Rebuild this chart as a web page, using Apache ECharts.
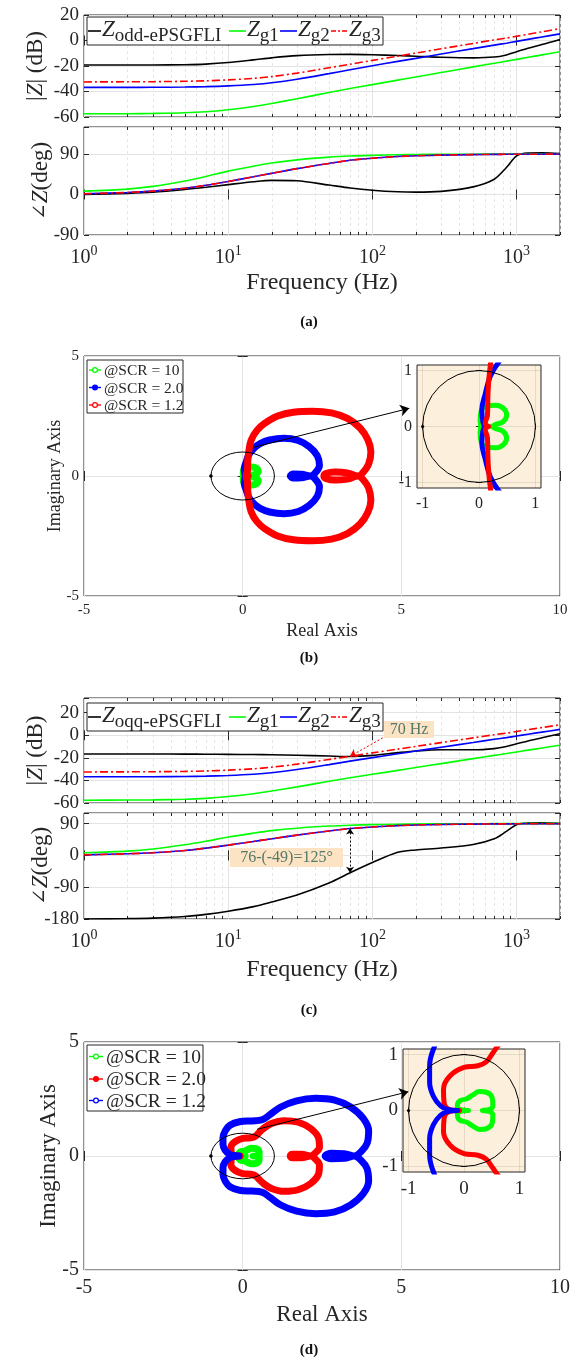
<!DOCTYPE html>
<html>
<head>
<meta charset="utf-8">
<title>Impedance Bode and Nyquist plots</title>
<script src="https://cdn.jsdelivr.net/npm/echarts@6/dist/echarts.min.js"></script>
<style>
  html, body { margin: 0; padding: 0; background: #ffffff; }
  #fig { width: 575px; height: 1361px; }
</style>
</head>
<body>
<div id="fig"></div>
<script>
// ---------- Bode data: frequency grid (Hz) and curve values ----------
const freqHz    = [1, 2, 3, 5, 7, 10, 15, 20, 30, 50, 70, 100, 150, 200, 300, 500, 700, 850, 1000, 1200, 1500, 2000];
const magOddA   = [-19.2, -19.2, -19.2, -19.0, -18.5, -17.3, -15.2, -13.6, -11.9, -11.0, -10.9, -11.2, -11.8, -12.3, -13.1, -13.6, -13.0, -11.3, -8.8, -6.0, -3.2, 0.8];
const magOqqC   = [-16.6, -16.6, -16.6, -16.7, -16.8, -16.9, -17.1, -17.3, -17.7, -18.4, -18.8, -17.8, -15.4, -13.9, -12.8, -12.9, -11.8, -10.0, -7.6, -5.0, -2.2, 1.4];
const magG1     = [-57.5, -57.4, -57.2, -56.7, -55.9, -54.3, -51.8, -49.4, -45.7, -40.8, -37.7, -34.6, -31.1, -28.6, -25.1, -20.7, -17.8, -16.2, -14.8, -13.2, -11.3, -8.8];
const magG2     = [-36.8, -36.8, -36.7, -36.5, -36.2, -35.6, -34.5, -33.2, -30.4, -26.0, -22.9, -19.8, -16.4, -14.0, -10.6, -6.4, -3.6, -2.1, -0.7, 0.9, 2.8, 5.2];
const magG3     = [-32.5, -32.4, -32.3, -32.0, -31.6, -30.9, -29.7, -28.3, -25.6, -21.4, -18.6, -15.6, -12.3, -9.9, -6.5, -2.3, 0.5, 1.9, 3.3, 4.9, 6.8, 9.3];
const phaseOddA = [0, 2.5, 5, 11, 16, 22, 28.5, 31.5, 30.5, 21, 14.5, 9.5, 6, 5.2, 7, 17, 34, 60, 86, 92, 92.5, 91];
const phaseOqqC = [-180, -179, -177.5, -173, -167, -158, -145, -132, -112, -78, -49, -20, 9, 15.5, 21, 31, 47, 68, 87, 91.5, 92, 90.5];
const phaseG1   = [7.5, 12, 18, 30, 40, 52, 63, 70, 77, 83, 85.5, 87, 88.2, 88.8, 89.3, 89.6, 89.8, 89.8, 89.9, 89.9, 90, 90];
const phaseG2   = [1.5, 4.5, 7.5, 14, 20.5, 29, 39.5, 47, 57.5, 69, 76, 80.5, 84.3, 86, 87.5, 88.6, 89.1, 89.3, 89.4, 89.5, 89.6, 89.7];
const phaseG3   = [1.5, 4.5, 7.5, 14, 20.5, 29, 39.5, 47, 57.5, 69, 76, 80.5, 84.3, 86, 87.5, 88.6, 89.1, 89.3, 89.4, 89.5, 89.6, 89.7];

// tick positions of the logarithmic frequency axis
const decadeTicks    = [1, 10, 100, 1000];
const minorFreqTicks = [2, 3, 4, 5, 6, 7, 8, 9, 20, 30, 40, 50, 60, 70, 80, 90, 200, 300, 400, 500, 600, 700, 800, 900, 2000];
const insetTicks     = [-1, 0, 1];

// legend names
const bodeNamesA = [['Z', 'odd-ePSGFLI'], ['Z', 'g1'], ['Z', 'g2'], ['Z', 'g3']];
const bodeNamesC = [['Z', 'oqq-ePSGFLI'], ['Z', 'g1'], ['Z', 'g2'], ['Z', 'g3']];
const scrLabels  = ['@SCR = 10', '@SCR = 2.0', '@SCR = 1.2'];

// annotation values in panel (c)
const crossFreqHz   = 70;
const phaseGapTop   = 76;
const phaseGapBot   = -49;
const crossArrow    = [[118, -2.3], [70, -18.6]];
const phaseArrow    = [[70, 76], [70, -49]];

// ---------- Nyquist data (real, imaginary) ----------
const nyqB_scr10 = [[0.23,0],[0.3,0.04],[0.42,0.08],[0.49,0.2],[0.44,0.32],[0.3,0.38],[0.12,0.36],[0.04,0.28],[0.02,0.12],[0.03,0],[0.02,-0.12],[0.04,-0.28],[0.12,-0.36],[0.3,-0.38],[0.44,-0.32],[0.49,-0.2],[0.42,-0.08],[0.3,-0.04],[0.23,0]];
const nyqB_scr20 = [[0.1,0],[0.07,0.08],[0.05,0.29],[0.11,0.58],[0.2,0.9],[0.35,1.15],[0.55,1.35],[0.85,1.5],[1.3,1.57],[1.75,1.48],[2.1,1.22],[2.35,0.85],[2.42,0.45],[2.3,0.15],[2.14,0],[1.85,0.07],[1.6,0.08],[1.5,0],[1.6,-0.08],[1.85,-0.07],[2.14,0],[2.3,-0.15],[2.42,-0.45],[2.35,-0.85],[2.1,-1.22],[1.75,-1.48],[1.3,-1.57],[0.85,-1.5],[0.55,-1.35],[0.35,-1.15],[0.2,-0.9],[0.11,-0.58],[0.05,-0.29],[0.07,-0.08],[0.1,0]];
const nyqB_scr12 = [[0.17,0],[0.11,0.06],[0.15,0.2],[0.16,0.6],[0.19,1.0],[0.27,1.5],[0.45,1.9],[0.7,2.2],[1.1,2.5],[1.6,2.66],[2.2,2.7],[2.8,2.63],[3.3,2.4],[3.7,2.0],[3.95,1.5],[4.04,1.0],[3.97,0.5],[3.8,0.16],[3.64,0],[3.3,0.13],[2.9,0.17],[2.62,0.1],[2.56,0],[2.62,-0.1],[2.9,-0.17],[3.3,-0.13],[3.64,0],[3.8,-0.16],[3.97,-0.5],[4.04,-1.0],[3.95,-1.5],[3.7,-2.0],[3.3,-2.4],[2.8,-2.63],[2.2,-2.7],[1.6,-2.66],[1.1,-2.5],[0.7,-2.2],[0.45,-1.9],[0.27,-1.5],[0.19,-1.0],[0.16,-0.6],[0.15,-0.2],[0.11,-0.06],[0.17,0]];

const nyqD_scr10 = [[0.08,0],[-0.08,0.02],[-0.12,0.08],[-0.08,0.17],[0.05,0.21],[0.16,0.28],[0.28,0.34],[0.42,0.32],[0.51,0.22],[0.52,0.08],[0.45,0.015],[0.33,0],[0.45,-0.015],[0.52,-0.08],[0.51,-0.22],[0.42,-0.32],[0.28,-0.34],[0.16,-0.28],[0.05,-0.21],[-0.08,-0.17],[-0.12,-0.08],[-0.08,-0.02],[0.08,0]];
const nyqD_scr20 = [[-0.08,0],[-0.27,0.02],[-0.36,0.15],[-0.37,0.38],[-0.25,0.62],[0,0.77],[0.25,0.8],[0.4,0.87],[0.52,1.03],[0.65,1.2],[0.9,1.42],[1.3,1.55],[1.75,1.48],[2.15,1.2],[2.4,0.75],[2.42,0.4],[2.3,0.15],[2.14,0],[1.85,0.08],[1.55,0.08],[1.5,0],[1.55,-0.08],[1.85,-0.08],[2.14,0],[2.3,-0.15],[2.42,-0.4],[2.4,-0.75],[2.15,-1.2],[1.75,-1.48],[1.3,-1.55],[0.9,-1.42],[0.65,-1.2],[0.52,-1.03],[0.4,-0.87],[0.25,-0.8],[0,-0.77],[-0.25,-0.62],[-0.37,-0.38],[-0.36,-0.15],[-0.27,-0.02],[-0.08,0]];
const nyqD_scr12 = [[-0.12,0],[-0.3,0.02],[-0.42,0.08],[-0.55,0.25],[-0.62,0.5],[-0.62,0.8],[-0.55,1.1],[-0.4,1.35],[-0.1,1.5],[0.3,1.54],[0.6,1.58],[0.85,1.8],[1.2,2.15],[1.7,2.42],[2.3,2.53],[2.9,2.45],[3.4,2.15],[3.8,1.65],[3.97,1.1],[3.92,0.55],[3.72,0.18],[3.52,0],[3.2,0.1],[2.8,0.12],[2.6,0],[2.8,-0.12],[3.2,-0.1],[3.52,0],[3.72,-0.18],[3.92,-0.55],[3.97,-1.1],[3.8,-1.65],[3.4,-2.15],[2.9,-2.45],[2.3,-2.53],[1.7,-2.42],[1.2,-2.15],[0.85,-1.8],[0.6,-1.58],[0.3,-1.54],[-0.1,-1.5],[-0.4,-1.35],[-0.55,-1.1],[-0.62,-0.8],[-0.62,-0.5],[-0.55,-0.25],[-0.42,-0.08],[-0.3,-0.02],[-0.12,0]];

// unit circle and critical point drawn on the Nyquist planes
const unitCircle    = { center: [0, 0], radius: 1 };
const criticalPoint = [-1, 0];

// zoom arrows pointing from the origin region to the inset
const zoomArrowB = [[0.35, 1.2], [5.25, 2.82]];
const zoomArrowD = [[0.45, 1.17], [5.22, 2.82]];

// ---------- styling ----------
const FONT = '"Liberation Serif", "Times New Roman", serif';
const TXT = '#262626';
const AX = '#262626';
const GRID_MAJOR = '#e3e3e3';
const GRID_MINOR = '#e6e6e6';
const INSET_BG = '#fcefdc';
const GREEN = '#00ff00', BLUE = '#0000ff', RED = '#ff0000', BLACK = '#000000';

const chart = echarts.init(document.getElementById('fig'), null, { renderer: 'canvas', width: 575, height: 1361 });

// grids: (a) magnitude, (a) phase, (b) Nyquist, (b) inset, (c) magnitude, (c) phase, (d) Nyquist, (d) inset
const gridBoxes = [
  { left: 84,  top: 15,   width: 476, height: 102 },
  { left: 84,  top: 127,  width: 476, height: 108 },
  { left: 84,  top: 356,  width: 476, height: 240 },
  { left: 417, top: 365,  width: 124, height: 123 },
  { left: 84,  top: 698,  width: 476, height: 105 },
  { left: 84,  top: 813,  width: 476, height: 106 },
  { left: 84,  top: 1042, width: 476, height: 228 },
  { left: 403, top: 1049, width: 122, height: 123 }
];
const insetGrids = [3, 7];
const grids = gridBoxes.map((b, i) => Object.assign({
  show: true, borderColor: AX, borderWidth: 1,
  backgroundColor: insetGrids.includes(i) ? INSET_BG : 'transparent',
  z: insetGrids.includes(i) ? 3 : 0,
  containLabel: false, outerBoundsMode: 'none'
}, b));

const xAxes = [], yAxes = [];

function freqAxes(g, showLabels, nameGap) {
  const base = { type: 'log', logBase: 10, min: 1, max: 2000, gridIndex: g, splitNumber: 3 };
  xAxes[2 * g] = Object.assign({}, base, {
    position: 'bottom',
    axisLine: { show: false },
    axisTick: { show: true, inside: true, length: 5, customValues: decadeTicks, lineStyle: { color: AX } },
    axisLabel: showLabels ? {
      show: true, margin: 9, customValues: decadeTicks,
      formatter: v => {
        const e = Math.log10(v);
        return Math.abs(e - Math.round(e)) < 1e-6 ? '{b|10}{p|' + Math.round(e) + '}' : '';
      },
      rich: {
        b: { fontFamily: FONT, fontSize: 20, color: TXT, lineHeight: 24, verticalAlign: 'bottom' },
        p: { fontFamily: FONT, fontSize: 14, color: TXT, lineHeight: 14, verticalAlign: 'top' }
      }
    } : { show: false },
    splitLine: { show: true, lineStyle: { color: GRID_MAJOR, width: 1 } },
    name: showLabels ? 'Frequency (Hz)' : '',
    nameLocation: 'middle', nameGap: nameGap, nameMoveOverlap: false,
    nameTextStyle: { fontFamily: FONT, fontSize: 24, color: TXT }
  });
  xAxes[2 * g + 1] = Object.assign({}, base, {
    position: 'top',
    axisLine: { show: false },
    axisTick: { show: true, inside: true, length: 5, customValues: decadeTicks, lineStyle: { color: AX } },
    axisLabel: { show: false },
    splitLine: { show: false }
  });
}

function valueAxes(list, dim, g, c) {
  const fmt = v => {
    if (c.labelValues) {
      return c.labelValues.some(t => Math.abs(t - v) < 1e-6) ? String(v) : '';
    }
    const k = (v - c.min) / c.interval;
    return Math.abs(k - Math.round(k)) < 1e-6 ? String(Math.round(v * 100) / 100) : '';
  };
  const common = { type: 'value', gridIndex: g, min: c.min, max: c.max, z: c.z || 0 };
  if (c.interval != null) common.interval = c.interval;
  if (c.splitNumber != null) common.splitNumber = c.splitNumber;
  const tick = { show: true, inside: true, length: c.tick, lineStyle: { color: AX } };
  if (c.labelValues) tick.customValues = c.labelValues;
  const lbl = {
    show: true, margin: c.margin, fontFamily: FONT, fontSize: c.fs, color: TXT,
    formatter: fmt, showMinLabel: true, showMaxLabel: true, hideOverlap: false
  };
  if (c.labelValues) lbl.customValues = c.labelValues;
  list[2 * g] = Object.assign({}, common, {
    position: dim === 'x' ? 'bottom' : 'left',
    axisLine: { show: false },
    axisTick: tick,
    axisLabel: lbl,
    splitLine: { show: true, lineStyle: { color: c.gridColor || GRID_MAJOR, width: 1 } },
    name: c.name || '', nameLocation: 'middle', nameGap: c.nameGap || 0, nameMoveOverlap: false,
    nameTextStyle: Object.assign({ fontFamily: FONT, fontSize: c.nameFs || 20, color: TXT }, c.nameRich ? { rich: c.nameRich } : {})
  });
  list[2 * g + 1] = Object.assign({}, common, {
    position: dim === 'x' ? 'top' : 'right',
    axisLine: { show: false },
    axisTick: tick,
    axisLabel: { show: false },
    splitLine: { show: false }
  });
}

const nameRich = {
  t: { fontFamily: FONT, fontSize: 23, color: TXT },
  g: { fontFamily: '"DejaVu Serif", serif', fontSize: 20, color: TXT },
  i: { fontFamily: FONT, fontSize: 23, color: TXT, fontStyle: 'italic' }
};

// (a)
freqAxes(0, false, 0);
freqAxes(1, true, 36);
valueAxes(yAxes, 'y', 0, { min: -60, max: 20, interval: 20, fs: 19, margin: 5, tick: 5, name: '{t||}{i|Z}{t|| (dB)}', nameGap: 37, nameRich });
valueAxes(yAxes, 'y', 1, { min: -90, max: 150, interval: 90, fs: 19, margin: 5, tick: 5, name: '{g|∠}{i|Z}{t|(deg)}', nameGap: 32, nameRich });
// (c)
freqAxes(4, false, 0);
freqAxes(5, true, 39);
valueAxes(yAxes, 'y', 4, { min: -60, max: 33, interval: 20, fs: 19, margin: 5, tick: 5, name: '{t||}{i|Z}{t|| (dB)}', nameGap: 37, nameRich });
valueAxes(yAxes, 'y', 5, { min: -180, max: 120, interval: 90, fs: 19, margin: 5, tick: 5, name: '{g|∠}{i|Z}{t|(deg)}', nameGap: 32, nameRich });
// (b) main + inset
valueAxes(xAxes, 'x', 2, { min: -5, max: 10, interval: 5, fs: 15, margin: 7, tick: 5, name: 'Real Axis', nameGap: 26, nameFs: 18 });
valueAxes(yAxes, 'y', 2, { min: -5, max: 5, interval: 5, fs: 15, margin: 5, tick: 5, name: 'Imaginary Axis', nameGap: 20, nameFs: 18 });
valueAxes(xAxes, 'x', 3, { min: -1.1, max: 1.1, splitNumber: 2, labelValues: insetTicks, fs: 16, margin: 8, tick: 3, z: 5, gridColor: 'rgba(0,0,0,0.09)' });
valueAxes(yAxes, 'y', 3, { min: -1.1, max: 1.1, splitNumber: 2, labelValues: insetTicks, fs: 16, margin: 5, tick: 3, z: 5, gridColor: 'rgba(0,0,0,0.09)' });
// (d) main + inset
valueAxes(xAxes, 'x', 6, { min: -5, max: 10, interval: 5, fs: 20, margin: 8, tick: 5, name: 'Real Axis', nameGap: 33, nameFs: 23 });
valueAxes(yAxes, 'y', 6, { min: -5, max: 5, interval: 5, fs: 20, margin: 5, tick: 5, name: 'Imaginary Axis', nameGap: 24, nameFs: 23 });
valueAxes(xAxes, 'x', 7, { min: -1.1, max: 1.1, splitNumber: 2, labelValues: insetTicks, fs: 19, margin: 8, tick: 3, z: 5, gridColor: 'rgba(0,0,0,0.09)' });
valueAxes(yAxes, 'y', 7, { min: -1.1, max: 1.1, splitNumber: 2, labelValues: insetTicks, fs: 19, margin: 5, tick: 3, z: 5, gridColor: 'rgba(0,0,0,0.09)' });

// ---------- series ----------
const series = [];
const pairs = (xs, ys) => xs.map((x, i) => [x, ys[i]]);

function minorGrid(g) {
  return {
    type: 'custom', xAxisIndex: 2 * g, yAxisIndex: 2 * g, silent: true, z: 1, clip: false,
    data: minorFreqTicks.map(f => [f, 0]),
    encode: { x: 0, y: 1 },
    renderItem(params, api) {
      const cs = params.coordSys;
      const x = Math.round(api.coord([api.value(0), 0])[0]) + 0.5;
      const y0 = cs.y, y1 = cs.y + cs.height;
      return {
        type: 'group', children: [
          { type: 'line', shape: { x1: x, y1: y0, x2: x, y2: y1 }, style: { stroke: GRID_MINOR, lineWidth: 1, lineDash: [3, 3] } },
          { type: 'line', shape: { x1: x, y1: y1, x2: x, y2: y1 - 3 }, style: { stroke: AX, lineWidth: 1 } },
          { type: 'line', shape: { x1: x, y1: y0, x2: x, y2: y0 + 3 }, style: { stroke: AX, lineWidth: 1 } }
        ]
      };
    }
  };
}

function bodeLine(g, values, color, dash) {
  return {
    type: 'line', xAxisIndex: 2 * g, yAxisIndex: 2 * g, data: pairs(freqHz, values),
    symbol: 'none', showSymbol: false, smooth: 0.3, clip: true, silent: true, z: 4,
    lineStyle: { color, width: 1.6, type: dash || 'solid' }
  };
}

const DASHDOT = [8, 3, 2, 3];
[0, 1, 4, 5].forEach(g => series.push(minorGrid(g)));

// (a)
series.push(bodeLine(0, magOddA, BLACK));
series.push(bodeLine(0, magG1, GREEN));
series.push(bodeLine(0, magG2, BLUE));
series.push(bodeLine(0, magG3, RED, DASHDOT));
series.push(bodeLine(1, phaseOddA, BLACK));
series.push(bodeLine(1, phaseG1, GREEN));
series.push(bodeLine(1, phaseG2, BLUE));
series.push(bodeLine(1, phaseG3, RED, DASHDOT));
// (c)
series.push(bodeLine(4, magOqqC, BLACK));
series.push(bodeLine(4, magG1, GREEN));
series.push(bodeLine(4, magG2, BLUE));
series.push(bodeLine(4, magG3, RED, DASHDOT));
series.push(bodeLine(5, phaseOqqC, BLACK));
series.push(bodeLine(5, phaseG1, GREEN));
series.push(bodeLine(5, phaseG2, BLUE));
series.push(bodeLine(5, phaseG3, RED, DASHDOT));

function nyqLine(g, pts, color, width, z) {
  return {
    type: 'line', xAxisIndex: 2 * g, yAxisIndex: 2 * g, data: pts,
    symbol: 'none', showSymbol: false, smooth: 0.4, clip: true, silent: true, z,
    lineStyle: { color, width, cap: 'round', join: 'round' }
  };
}

function circleSeries(g, dotR, z) {
  return {
    type: 'custom', xAxisIndex: 2 * g, yAxisIndex: 2 * g, silent: true, z, clip: true,
    data: [[unitCircle.center[0], unitCircle.center[1]]],
    encode: { x: 0, y: 1 },
    renderItem(params, api) {
      const c = api.coord(unitCircle.center);
      const r = api.coord([unitCircle.center[0] + unitCircle.radius, unitCircle.center[1]]);
      const t = api.coord([unitCircle.center[0], unitCircle.center[1] + unitCircle.radius]);
      const p = api.coord(criticalPoint);
      const rx = r[0] - c[0], ry = c[1] - t[1];
      const d = 'M ' + (c[0] - rx) + ' ' + c[1] +
        ' A ' + rx + ' ' + ry + ' 0 1 0 ' + (c[0] + rx) + ' ' + c[1] +
        ' A ' + rx + ' ' + ry + ' 0 1 0 ' + (c[0] - rx) + ' ' + c[1] + ' Z';
      return {
        type: 'group', children: [
          { type: 'path', shape: { pathData: d }, style: { fill: 'none', stroke: BLACK, lineWidth: 1 } },
          { type: 'circle', shape: { cx: p[0], cy: p[1], r: dotR }, style: { fill: BLACK } }
        ]
      };
    }
  };
}

function arrowSeries(g, coords, color, dotted, both, size) {
  return {
    type: 'lines', coordinateSystem: 'cartesian2d', xAxisIndex: 2 * g, yAxisIndex: 2 * g,
    silent: true, z: 20, polyline: false,
    symbol: both ? ['arrow', 'arrow'] : ['none', 'arrow'], symbolSize: size,
    lineStyle: { color, width: 1, opacity: 1, type: dotted ? [2, 2] : 'solid', curveness: 0 },
    data: [{ coords }]
  };
}

// (b) main
series.push(nyqLine(2, nyqB_scr10, GREEN, 7, 5));
series.push(nyqLine(2, nyqB_scr20, BLUE, 7, 6));
series.push(nyqLine(2, nyqB_scr12, RED, 7, 7));
series.push(circleSeries(2, 1.8, 9));
series.push(arrowSeries(2, zoomArrowB, BLACK, false, false, 9));
// (b) inset
series.push(nyqLine(3, nyqB_scr10, GREEN, 5, 10));
series.push(nyqLine(3, nyqB_scr20, BLUE, 5, 11));
series.push(nyqLine(3, nyqB_scr12, RED, 5, 12));
series.push(circleSeries(3, 1.6, 13));
// (d) main
series.push(nyqLine(6, nyqD_scr10, GREEN, 7, 5));
series.push(nyqLine(6, nyqD_scr20, RED, 7, 6));
series.push(nyqLine(6, nyqD_scr12, BLUE, 7, 7));
series.push(circleSeries(6, 1.8, 9));
series.push(arrowSeries(6, zoomArrowD, BLACK, false, false, 9));
// (d) inset
series.push(nyqLine(7, nyqD_scr10, GREEN, 5, 10));
series.push(nyqLine(7, nyqD_scr20, RED, 5, 11));
series.push(nyqLine(7, nyqD_scr12, BLUE, 5, 12));
series.push(circleSeries(7, 1.6, 13));
// (c) annotation arrows
series.push(arrowSeries(4, crossArrow, RED, true, false, 7));
series.push(arrowSeries(5, phaseArrow, BLACK, true, true, 6));

// ---------- graphic elements: legends, panel tags, annotation boxes ----------
const graphics = [];

function bodeLegend(box, y, names, lineXs, textXs) {
  graphics.push({ type: 'rect', shape: box, style: { fill: '#ffffff', stroke: AX, lineWidth: 1 }, z: 100 });
  const colors = [BLACK, GREEN, BLUE, RED];
  names.forEach((n, i) => {
    graphics.push({
      type: 'line', shape: { x1: lineXs[i][0], y1: y, x2: lineXs[i][1], y2: y },
      style: { stroke: colors[i], lineWidth: 1.6, lineDash: i === 3 ? [5, 2, 2, 2] : null }, z: 101
    });
    graphics.push({
      type: 'text', x: textXs[i], y: y + 1, z: 101,
      style: {
        text: '{z|' + n[0] + '}{s|' + n[1] + '}', align: 'left', verticalAlign: 'middle',
        rich: {
          z: { fontFamily: FONT, fontSize: 23, fontStyle: 'italic', fill: TXT, lineHeight: 28, verticalAlign: 'top' },
          s: { fontFamily: FONT, fontSize: 19, fill: TXT, lineHeight: 19, verticalAlign: 'bottom' }
        }
      }
    });
  });
}
bodeLegend({ x: 87, y: 17, width: 296, height: 28 }, 31, bodeNamesA,
  [[88, 101], [229, 246], [280, 297], [331, 348]], [102, 247, 298, 349]);
bodeLegend({ x: 87, y: 703, width: 296, height: 28 }, 717, bodeNamesC,
  [[88, 101], [229, 246], [280, 297], [331, 348]], [102, 247, 298, 349]);

function nyqLegend(box, rowYs, lineX, textX, fs, colors, fills) {
  graphics.push({ type: 'rect', shape: box, style: { fill: '#ffffff', stroke: AX, lineWidth: 1 }, z: 100 });
  scrLabels.forEach((lab, i) => {
    const y = rowYs[i];
    graphics.push({ type: 'line', shape: { x1: lineX[0], y1: y, x2: lineX[1], y2: y }, style: { stroke: colors[i], lineWidth: 1.4 }, z: 101 });
    graphics.push({ type: 'circle', shape: { cx: (lineX[0] + lineX[1]) / 2, cy: y, r: 2.4 }, style: { fill: fills[i] ? colors[i] : '#ffffff', stroke: colors[i], lineWidth: 1.2 }, z: 102 });
    graphics.push({ type: 'text', x: textX, y: y + 1, z: 101, style: { text: lab, fontFamily: FONT, fontSize: fs, fill: TXT, align: 'left', verticalAlign: 'middle' } });
  });
}
nyqLegend({ x: 87, y: 360, width: 96, height: 53 }, [370, 387.5, 405], [89, 101], 104, 15.5, [GREEN, BLUE, RED], [false, true, false]);
nyqLegend({ x: 87, y: 1045, width: 116, height: 66 }, [1056.5, 1079, 1100.5], [89, 103], 106, 19.5, [GREEN, RED, BLUE], [false, true, false]);

// panel tags
[['(a)', 322], ['(b)', 658], ['(c)', 1010], ['(d)', 1350]].forEach(([t, y]) => {
  graphics.push({ type: 'text', x: 309, y, z: 100, style: { text: t, fontFamily: FONT, fontSize: 15, fontWeight: 'bold', fill: '#111', align: 'center', verticalAlign: 'middle' } });
});

// annotation boxes in (c)
const NOTE_BG = '#fbe3c3', NOTE_TXT = '#56786a';
graphics.push({ type: 'rect', shape: { x: 384, y: 721, width: 50, height: 17 }, style: { fill: NOTE_BG }, z: 90 });
graphics.push({ type: 'text', x: 409, y: 730, z: 91, style: { text: crossFreqHz + ' Hz', fontFamily: FONT, fontSize: 16, fill: NOTE_TXT, align: 'center', verticalAlign: 'middle' } });
graphics.push({ type: 'rect', shape: { x: 230, y: 848, width: 113, height: 19 }, style: { fill: NOTE_BG }, z: 90 });
graphics.push({ type: 'text', x: 286.5, y: 858, z: 91, style: { text: phaseGapTop + '-(' + phaseGapBot + ')=' + (phaseGapTop - phaseGapBot) + '°', fontFamily: FONT, fontSize: 16, fill: NOTE_TXT, align: 'center', verticalAlign: 'middle' } });

chart.setOption({
  animation: false,
  backgroundColor: '#ffffff',
  textStyle: { fontFamily: FONT },
  grid: grids,
  xAxis: xAxes,
  yAxis: yAxes,
  series: series,
  graphic: { elements: graphics }
});
</script>
</body>
</html>
